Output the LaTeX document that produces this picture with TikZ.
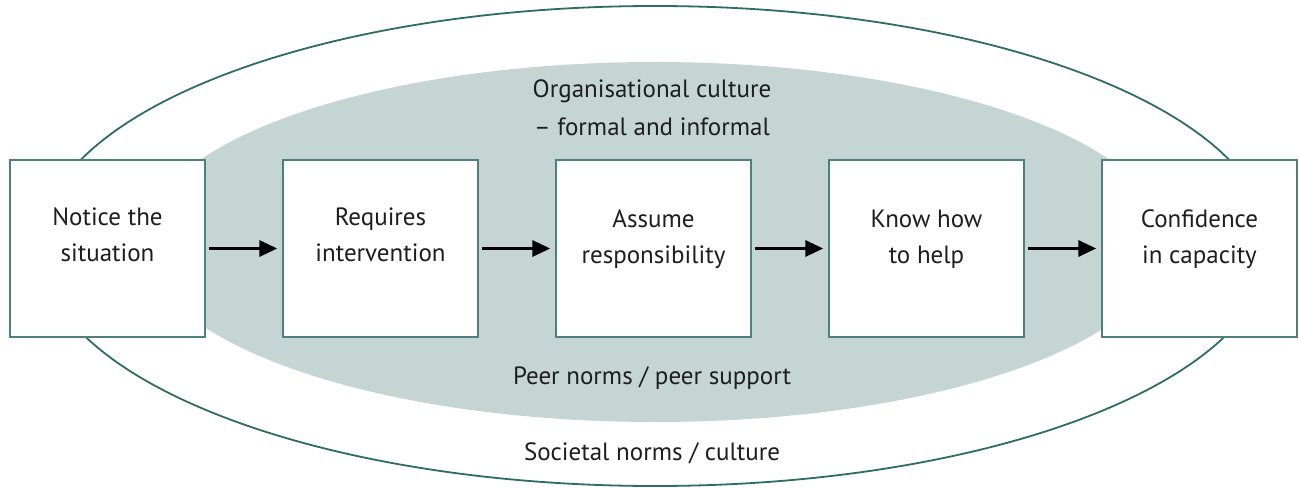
\documentclass[tikz,border=0pt]{standalone}
\usepackage{fontspec}
\setmainfont{PT Sans}
\usetikzlibrary{arrows.meta}
\definecolor{outerline}{HTML}{2F6B67}
\definecolor{boxline}{HTML}{4E807E}
\definecolor{orgfill}{HTML}{C4D5D4}
\definecolor{txt}{HTML}{1E1E1E}
\tikzset{
  stepbox/.style={draw=boxline, line width=1.5pt, fill=white, minimum width=195pt, minimum height=177pt, inner sep=0pt},
  boxtext/.style={text=txt, font=\fontsize{25}{36}\selectfont, align=center},
  lbl/.style={text=txt, font=\fontsize{25}{38}\selectfont, align=center},
  flow/.style={-{Triangle[length=18pt,width=16pt]}, line width=3.3pt, black, shorten <=3pt, shorten >=5pt}
}
\begin{document}
\begin{tikzpicture}[x=1pt,y=-1pt]
\useasboundingbox (0,0) rectangle (1299,489);
\draw[outerline, line width=1.8pt, fill=white] (655,246) ellipse [x radius=615, y radius=240];
\fill[orgfill] (655,242) ellipse [x radius=511, y radius=180];
\node[stepbox] (b1) at (107.5,248.5) {};
\node[stepbox] (b2) at (380.5,248.5) {};
\node[stepbox] (b3) at (653.5,248.5) {};
\node[stepbox] (b4) at (926.5,248.5) {};
\node[stepbox] (b5) at (1199.5,248.5) {};
\node[boxtext] (t1) at (107.5,235) {Notice the\\situation};
\node[boxtext] (t2) at (380.5,235) {Requires\\intervention};
\node[boxtext] (t3) at (653.5,239) {Assume\\responsibility};
\node[boxtext] (t4) at (926.5,239) {Know how\\to help};
\node[boxtext] (t5) at (1199.5,239) {Confidence\\in capacity};
\draw[flow] (b1.east) -- (b2.west);
\draw[flow] (b2.east) -- (b3.west);
\draw[flow] (b3.east) -- (b4.west);
\draw[flow] (b4.east) -- (b5.west);
\node[lbl] (org) at (652,108) {Organisational culture\\– formal and informal};
\node[lbl] (peer) at (652,378) {Peer norms / peer support};
\node[lbl] (soc) at (652,453) {Societal norms / culture};
\end{tikzpicture}
\end{document}
